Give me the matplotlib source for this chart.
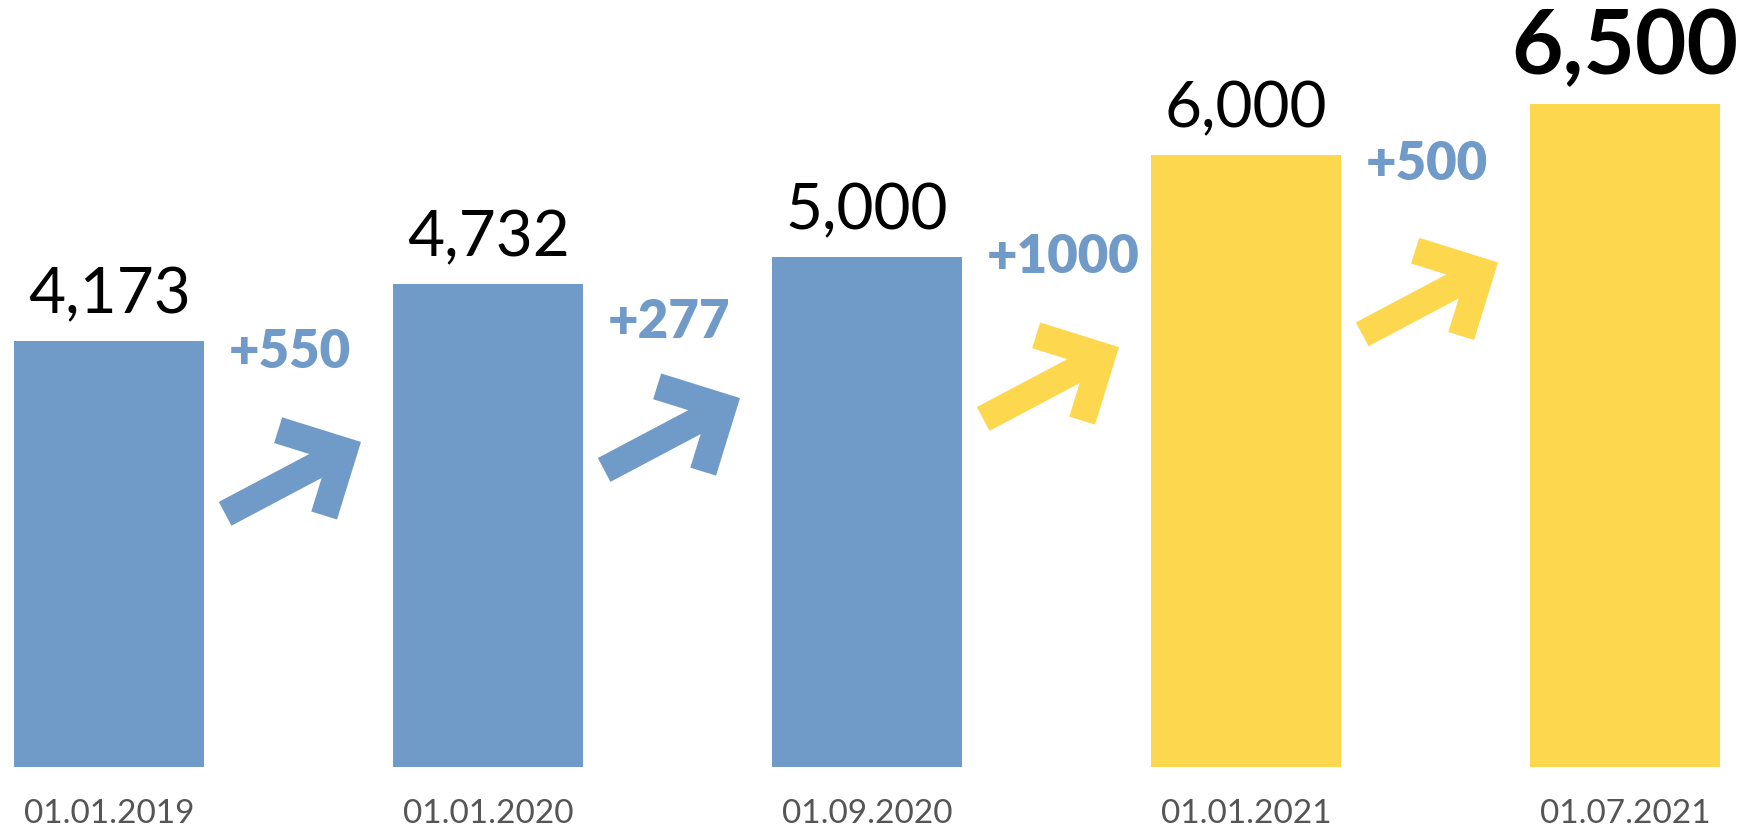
import matplotlib.pyplot as plt

dates = ["01.01.2019", "01.01.2020", "01.09.2020", "01.01.2021", "01.07.2021"]
values = [4173, 4732, 5000, 6000, 6500]
value_labels = ["4,173", "4,732", "5,000", "6,000", "6,500"]
deltas = ["+550", "+277", "+1000", "+500"]

BLUE = "#709AC7"
YELLOW = "#FDD74E"
bar_colors = [BLUE, BLUE, BLUE, YELLOW, YELLOW]
arrow_colors = [BLUE, BLUE, YELLOW, YELLOW]

# where the arrows and the delta texts sit (data units, layout only)
arrow_y = [3100, 3530, 4030, 4860]
delta_y = [3913, 4208, 4842, 5760]

FONT = ["Lato", "DejaVu Sans"]

W, H = 1748, 830
fig = plt.figure(figsize=(W / 100, H / 100), dpi=100)
ax = fig.add_axes([0, 0, 1, 1])
ax.axis("off")
xl, xr = -0.288, 4.324
yb, yt = -618, 7520
ax.set_xlim(xl, xr)
ax.set_ylim(yb, yt)

xs = list(range(len(values)))
ax.bar(xs, values, width=0.5, color=bar_colors)

for i, (v, lab) in enumerate(zip(values, value_labels)):
    last = i == len(values) - 1
    ax.annotate(lab, (i, v), xytext=(0, 21.5 if last else 20), textcoords="offset points",
                ha="center", va="baseline", family=FONT,
                fontsize=64 if last else 46, fontweight="bold" if last else "normal",
                color="black")
    ax.annotate(dates[i], (i, 0), xytext=(0, -40), textcoords="offset points",
                ha="center", va="baseline", family=FONT, fontsize=24,
                fontweight="normal", color="#555555")

# arrows: shaft + chevron, offsets in pixels from the chevron corner
px_x = W / (xr - xl)
px_y = H / (yt - yb)

def px(cx, cy, dx, dy):
    return cx + dx / px_x, cy - dy / px_y

for i, (ay, c) in enumerate(zip(arrow_y, arrow_colors)):
    cx = i + 0.62
    tail = px(cx, ay, -119, 63)
    arm1 = px(cx, ay, -66, -20.6)
    arm2 = px(cx, ay, -20, 64.7)
    ax.plot([tail[0], cx], [tail[1], ay], color=c, lw=19.4, solid_capstyle="butt")
    ax.plot([arm1[0], cx, arm2[0]], [arm1[1], ay, arm2[1]], color=c, lw=19.4,
            solid_capstyle="butt", solid_joinstyle="miter")
    ax.text(i + 0.315, delta_y[i], deltas[i], ha="left", va="baseline", family=FONT,
            fontsize=38, fontweight="heavy", color=BLUE)

fig.savefig("out.png", dpi=100)
